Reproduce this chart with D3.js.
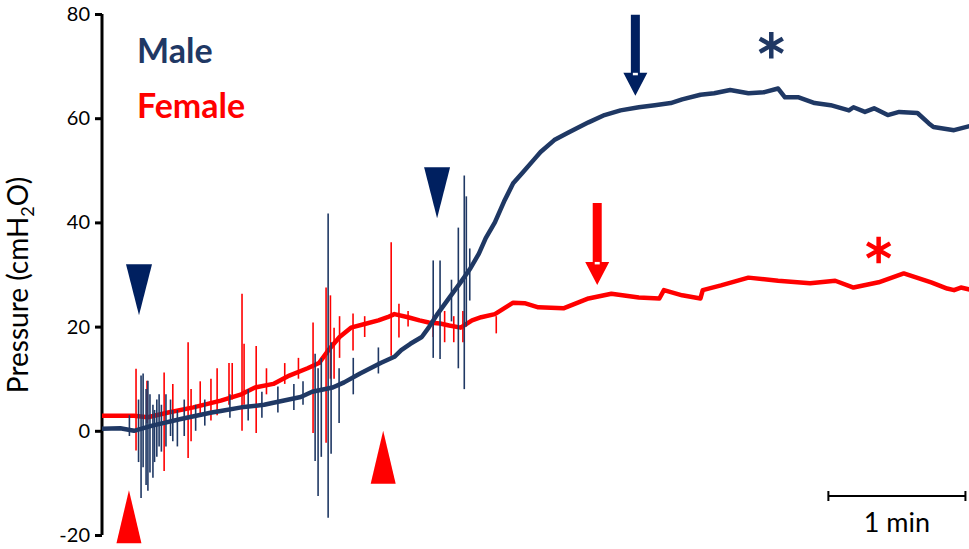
<!DOCTYPE html>
<html><head><meta charset="utf-8">
<script src="https://cdn.jsdelivr.net/npm/d3@7"></script>
<style>body{margin:0;background:#fff}</style>
</head><body><svg id="c" width="969" height="549"></svg>
<script>
// ---- data (time in s, pressure in cmH2O) ----
const yTicks = [-20, 0, 20, 40, 60, 80];
const maleBase = [[0,0.4],[8,0.5],[14,0],[22,1],[35,2.3],[48,3.5],[52,3.8],[61,4.5],[71,5],[74,5.3],[87,6.5],[92,7.5],[101,8.3],[106,9.3],[113,11],[122,13],[128,14.2],[131,15.5],[135,16.7],[140,18],[143,19.8],[147,22.5],[152,25.5],[157,28.5],[161,31],[165,34],[168,37],[172,40],[176,44],[180,47.5],[184,49.5],[189,52],[192,53.5],[198,55.8],[204,57.2],[213,59.2],[220,60.6],[227,61.5],[235,62.1],[242,62.5],[249,62.9],[254,63.6],[262,64.5],[268,64.8],[275,65.4],[283,64.8],[290,65],[296,65.7],[299,64],[305,64],[312,62.9],[319,62.5],[327,61.5],[329,62.1],[334,61.2],[338,61.9],[344,60.6],[349,61.2],[357,61],[362,59],[364,58.3],[373,57.7],[380,58.5]];
const maleSpikes = [[12,3,-1],[16,6,-6],[17.1,10.6,-12.9],[18,11,-7],[19.3,8,-10.4],[20.1,9.6,-11.5],[21,7,-8],[22.3,5,-9],[23,4,-6],[24,6,-5],[25,7,-3],[26,5,-4],[28,7,-3],[30,6,-1],[31,4,-2],[33,4,-3],[36,6,-1],[41,5,0],[45,6,1],[56,7,2.5],[64,8,2],[70,7.5,2.5],[77,8.5,3.5],[84,9,4],[88,9.5,5],[93.3,14.8,-5.8],[94.6,12,-12.5],[96,14,-5],[99,41.7,-16.7],[100.3,17,-4.4],[103.8,12,1.5],[110,14,7],[121,16,11],[145,32.7,14],[148,32.7,13.8],[153,29,21],[156,39,12],[158.6,49,8],[159.5,45,20],[161,35,25]];
const femaleBase = [[0,2.9],[14,2.9],[20,2.6],[29,3.5],[40,4.5],[52,5.8],[61,7],[67,8.3],[75,9],[82,10.6],[90,12],[95,13],[99,15.4],[104,18],[109,19.8],[115,20.5],[121,21.2],[125,21.8],[128,22.4],[134,21.8],[139,21.2],[143,20.8],[148,20.6],[152,20.2],[157,19.8],[162,21.2],[166,21.8],[172,22.4],[176,23.5],[180,24.6],[185,24.5],[191,23.7],[202,23.5],[213,25.4],[223,26.3],[235,25.6],[244,25.4],[246,27],[254,26],[262,25.4],[263,27],[271,27.9],[283,29.4],[296,28.8],[310,28.3],[321,28.8],[329,27.5],[340,28.5],[351,30.2],[363,28.5],[370,27.3],[373,27],[376,27.5],[380,27.1]];
const femaleSpikes = [[14.9,11.9,-3.8],[19.7,9.6,1.5],[27.2,11.2,-7.7],[31,9,2],[37.7,17,-5.2],[39,8,-2],[43,9.5,3],[47.7,10,2],[50.4,12,3],[55.6,13,5],[57,13,6],[61.3,26.3,0],[62.2,16.7,5],[67.5,16.3,-0.4],[72,12,7],[80,13,9],[86,14,10],[92.4,20.8,-0.4],[98.1,27.5,-2.3],[100,26,10],[101.6,19.8,10],[104,22,14],[109.9,22.5,15.4],[115,22,18],[126.6,36.2,14.4],[130,24.4,17.9],[134,23,20],[145,22,18],[150,23,17],[154,22,17],[158,23,17],[172.6,22,18.7]];
// annotations: [time, pressure at tip]
const maleTriangles = [[16.2,22.2],[146.7,40.8]];
const femaleTriangles = [[11.8,-11.4],[123.1,0]];
const maleArrow = [233.5,64.3];
const femaleArrow = [216.8,28];
const maleStar = [293,74];
const femaleStar = [340,34.7];
const scaleBar = [318,378,-12.5];

const navy = "#1f3864", navyDark = "#002060", red = "#ff0000";
const svg = d3.select("#c");
const x = d3.scaleLinear().domain([0,380]).range([102,970]);
const y = d3.scaleLinear().domain([-20,80]).range([535,14]);

// y axis
const ax = svg.append("g").attr("transform","translate(102,0)")
  .call(d3.axisLeft(y).tickValues(yTicks).tickSize(7).tickPadding(5).tickFormat(d=>String(d)));
ax.select(".domain").attr("stroke","#000").attr("stroke-width",3).attr("d",`M0,${y(-20)}V${y(80)}`);
ax.selectAll(".tick line").attr("stroke","#000").attr("stroke-width",3);
ax.selectAll(".tick text").attr("font-family","Lato, 'Open Sans', sans-serif").attr("font-size",20).attr("fill","#000");

const title = svg.append("text").attr("transform","translate(28,285) rotate(-90)")
  .attr("text-anchor","middle").attr("font-family","Lato, 'Open Sans', sans-serif").attr("font-size",28).attr("fill","#000");
title.append("tspan").text("Pressure (cmH");
title.append("tspan").text("2").attr("font-size",18).attr("dy",6);
title.append("tspan").text("O)").attr("dy",-6);

const line = d3.line().x(d=>x(d[0])).y(d=>y(d[1]));
function drawTrace(base, spikes, color){
  const g = svg.append("g");
  g.selectAll("path.sp").data(spikes).join("path").attr("class","sp")
    .attr("d", d=>line([[d[0],d[1]],[d[0],d[2]]]))
    .attr("stroke",color).attr("stroke-width",1.6).attr("fill","none");
  g.append("path").attr("d",line(base)).attr("stroke",color).attr("stroke-width",4.5)
    .attr("fill","none").attr("stroke-linejoin","round");
}
drawTrace(femaleBase, femaleSpikes, red);
drawTrace(maleBase, maleSpikes, navy);

// triangles
maleTriangles.forEach(d=>{
  const cx=x(d[0]), ty=y(d[1]);
  svg.append("path").attr("d",`M${cx-13},${ty-51}L${cx+13},${ty-51}L${cx},${ty}Z`).attr("fill",navyDark);
});
femaleTriangles.forEach(d=>{
  const cx=x(d[0]), ty=y(d[1]);
  svg.append("path").attr("d",`M${cx-12.5},${ty+53}L${cx+12.5},${ty+53}L${cx},${ty}Z`).attr("fill",red);
});
// arrows
function arrow(d,color,len){
  const cx=x(d[0]), ty=y(d[1]);
  svg.append("path").attr("d",`M${cx-4.5},${ty-len}H${cx+4.5}V${ty-23}H${cx+12}L${cx},${ty}L${cx-12},${ty-23}H${cx-4.5}Z`).attr("fill",color);
  svg.append("rect").attr("x",cx-2.5).attr("y",ty-23).attr("width",5).attr("height",2.5).attr("fill","#fff");
}
arrow(maleArrow,navyDark,81);
arrow(femaleArrow,red,82);
// asterisks
const star = d3.symbol().type(d3.symbolAsterisk).size(500);
svg.append("path").attr("d",star()).attr("transform",`translate(${x(maleStar[0])},${y(maleStar[1])})`)
  .attr("stroke",navy).attr("stroke-width",4.5).attr("fill","none");
svg.append("path").attr("d",star()).attr("transform",`translate(${x(femaleStar[0])},${y(femaleStar[1])})`)
  .attr("stroke",red).attr("stroke-width",4.5).attr("fill","none");

// legend
svg.append("text").attr("x",137).attr("y",63).text("Male").attr("font-family","Lato, sans-serif")
  .attr("font-weight","bold").attr("font-size",34).attr("fill",navy);
svg.append("text").attr("x",137).attr("y",118).text("Female").attr("font-family","Lato, sans-serif")
  .attr("font-weight","bold").attr("font-size",34).attr("fill",red);

// scale bar
const sy = y(scaleBar[2]);
svg.append("path").attr("d",`M${x(scaleBar[0])},${sy}H${x(scaleBar[1])}M${x(scaleBar[0])},${sy-5}V${sy+5}M${x(scaleBar[1])},${sy-5}V${sy+5}`)
  .attr("stroke","#000").attr("stroke-width",2).attr("fill","none");
svg.append("text").attr("x",(x(scaleBar[0])+x(scaleBar[1]))/2).attr("y",532).attr("text-anchor","middle")
  .attr("font-family","Lato, sans-serif").attr("font-size",27).attr("fill","#000").text("1 min");
</script></body></html>
